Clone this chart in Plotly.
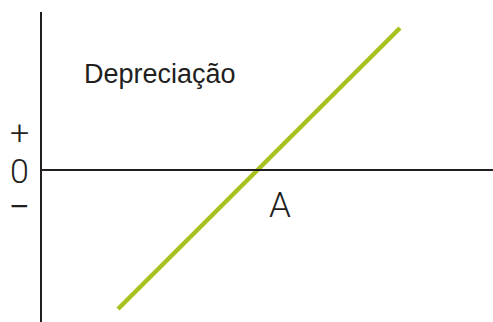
import plotly.graph_objects as go

# Conceptual data (units relative to origin A-axis crossing)
line_x = [77, 359]
line_y = [-139, 142]
x_range = [-41, 452]
y_range = [-152, 170]
axis_top = 158
sign_labels = ["+", "0", "−"]
sign_y = [38, -1, -36]
curve_label = "Depreciação"
point_label = "A"

ink = "#231f20"
green = "#a9c11f"
font = "Liberation Sans"
light = "Roboto"

fig = go.Figure()
fig.add_trace(go.Scatter(x=line_x, y=line_y, mode="lines",
                         line=dict(color=green, width=4.5), hoverinfo="skip"))

# axes
fig.add_shape(type="line", x0=0, x1=0, y0=y_range[0], y1=axis_top,
              xref="x", yref="y", line=dict(color=ink, width=2))
fig.add_shape(type="line", x0=0, x1=x_range[1], y0=0, y1=0,
              xref="x", yref="y", line=dict(color=ink, width=2))

sign_fonts = [dict(family=light, size=34, color=ink, weight=300),
              dict(family=light, size=34, color=ink, weight=300),
              dict(family=font, size=32, color=ink)]
for t, yy, f in zip(sign_labels, sign_y, sign_fonts):
    fig.add_annotation(x=-22, y=yy, text=t, showarrow=False, font=f,
                       xanchor="center", yanchor="middle")

fig.add_annotation(x=41, y=96, text=curve_label, showarrow=False,
                   font=dict(family=font, size=27, color=ink),
                   xanchor="left", yanchor="middle")
fig.add_annotation(x=239, y=-35, text=point_label, showarrow=False,
                   font=dict(family=light, size=35, color=ink, weight=300),
                   xanchor="center", yanchor="middle")

fig.update_xaxes(range=x_range, visible=False, fixedrange=True)
fig.update_yaxes(range=y_range, visible=False, fixedrange=True)
fig.update_layout(width=493, height=322, margin=dict(l=0, r=0, t=0, b=0),
                  plot_bgcolor="white", paper_bgcolor="white",
                  showlegend=False)
fig.write_html("out.html", config={"displayModeBar": False},
               post_script="document.body.style.margin='0';")
